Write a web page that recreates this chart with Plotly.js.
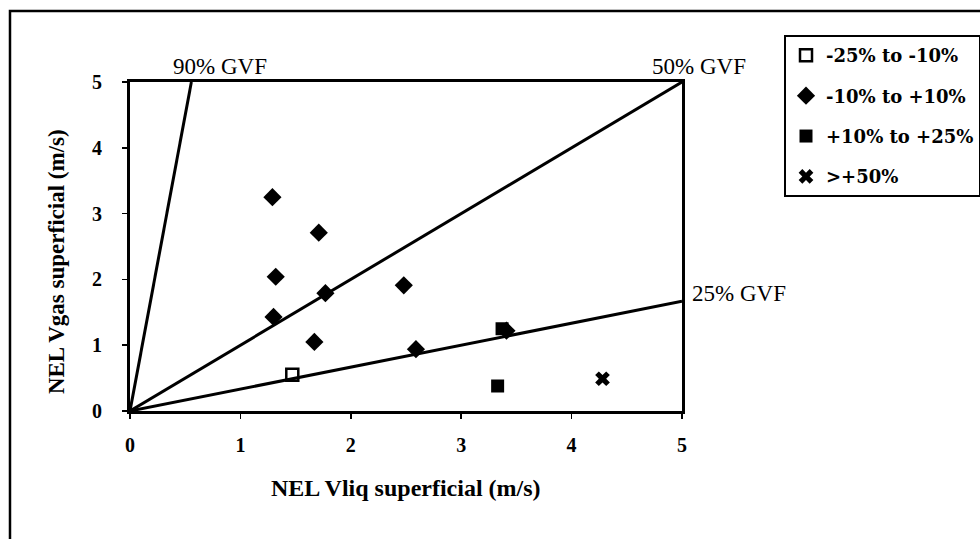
<!DOCTYPE html>
<html>
<head>
<meta charset="utf-8">
<script src="https://cdn.plot.ly/plotly-3.0.1.min.js"></script>
<style>html,body{margin:0;padding:0;background:#fff;}#chart{width:980px;height:539px;}</style>
</head>
<body>
<div id="chart"></div>
<script>
// GVF reference lines
const lineX = [0, 5];
const gvf50Y = [0, 5];
const gvf25Y = [0, 1.667];
const gvf90X = [0, 0.556];
const gvf90Y = [0, 5];

// Data points (NEL Vliq, NEL Vgas)
const openSqX = [1.47];
const openSqY = [0.55];
const diamondX = [1.29, 1.71, 1.32, 1.77, 2.48, 1.30, 1.67, 2.59, 3.41];
const diamondY = [3.25, 2.71, 2.04, 1.79, 1.91, 1.43, 1.05, 0.94, 1.22];
const fillSqX = [3.37, 3.33];
const fillSqY = [1.25, 0.38];
const crossX = [4.28];
const crossY = [0.49];

const legendNames = ['-25% to -10%', '-10% to +10%', '+10% to +25%', '>+50%'];
const tickVals = [0, 1, 2, 3, 4, 5];

const serif = 'Liberation Serif, Times New Roman, serif';
const wideSerif = 'DejaVu Serif, serif';
const lineStyle = {color: '#000', width: 3};

const traces = [
  {x: lineX, y: gvf50Y, mode: 'lines', line: lineStyle, showlegend: false, hoverinfo: 'skip'},
  {x: lineX, y: gvf25Y, mode: 'lines', line: lineStyle, showlegend: false, hoverinfo: 'skip'},
  {x: gvf90X, y: gvf90Y, mode: 'lines', line: lineStyle, showlegend: false, hoverinfo: 'skip'},
  {x: openSqX, y: openSqY, mode: 'markers', name: legendNames[0], legendgroup: 'a',
   marker: {symbol: 'square-open', size: 12, color: '#000', line: {width: 2.5, color: '#000'}}},
  {x: diamondX, y: diamondY, mode: 'markers', name: legendNames[1], legendgroup: 'b',
   marker: {symbol: 'diamond', size: 14, color: '#000'}},
  {x: fillSqX, y: fillSqY, mode: 'markers', name: legendNames[2], legendgroup: 'c',
   marker: {symbol: 'square', size: 13, color: '#000'}},
  {x: crossX, y: crossY, mode: 'markers', name: legendNames[3], legendgroup: 'd',
   marker: {symbol: 'x', size: 13, color: '#000'}}
];

const axisCommon = {
  range: [0, 5], tickvals: tickVals, ticktext: tickVals.map(String),
  showgrid: false, zeroline: false, showline: true, linecolor: '#000', linewidth: 3,
  mirror: true, ticks: 'outside', ticklen: 5, tickwidth: 1.5, tickcolor: '#000',
  tickfont: {family: serif, size: 20, color: '#000', weight: 'bold'}, automargin: false
};

const layout = {
  width: 980, height: 539,
  margin: {l: 130, r: 298, t: 82, b: 128, autoexpand: false},
  paper_bgcolor: '#fff', plot_bgcolor: '#fff',
  font: {family: serif, color: '#000'},
  showlegend: true,
  legend: {
    xref: 'container', yref: 'container',
    x: 0.8, y: 0.935, xanchor: 'left', yanchor: 'top',
    bordercolor: '#000', borderwidth: 2, bgcolor: '#fff',
    font: {family: wideSerif, size: 18, color: '#000', weight: 'bold'},
    tracegroupgap: 14, itemwidth: 30
  },
  xaxis: Object.assign({}, axisCommon, {ticklabelstandoff: 9}),
  yaxis: Object.assign({}, axisCommon, {ticklabelstandoff: 16}),
  annotations: [
    {x: 0.5, y: -0.234, xref: 'paper', yref: 'paper', text: 'NEL Vliq superficial (m/s)', showarrow: false,
     xanchor: 'center', yanchor: 'middle', font: {family: serif, size: 24, color: '#000', weight: 'bold'}},
    {x: -0.132, y: 0.453, xref: 'paper', yref: 'paper', text: 'NEL Vgas superficial (m/s)', showarrow: false,
     textangle: -90, xanchor: 'center', yanchor: 'middle', font: {family: serif, size: 23, color: '#000', weight: 'bold'}},
    {x: 0.815, y: 5, xref: 'x', yref: 'y', text: '90% GVF', showarrow: false, yanchor: 'bottom', yshift: 1,
     font: {family: serif, size: 23, color: '#000'}},
    {x: 5, y: 5, xref: 'x', yref: 'y', text: '50% GVF', showarrow: false, xanchor: 'center', yanchor: 'bottom',
     xshift: 17, yshift: 1, font: {family: serif, size: 23, color: '#000'}},
    {x: 5, y: 1.667, xref: 'x', yref: 'y', text: '25% GVF', showarrow: false, xanchor: 'left', yanchor: 'middle',
     xshift: 8, yshift: 8, font: {family: serif, size: 23, color: '#000'}}
  ],
  shapes: [
    {type: 'rect', xref: 'paper', yref: 'paper', x0: -0.2174, x1: 1.56, y0: -0.41, y1: 1.2158,
     line: {color: '#000', width: 2.5}, layer: 'below'}
  ]
};

Plotly.newPlot('chart', traces, layout, {displayModeBar: false, staticPlot: true});
</script>
</body>
</html>
